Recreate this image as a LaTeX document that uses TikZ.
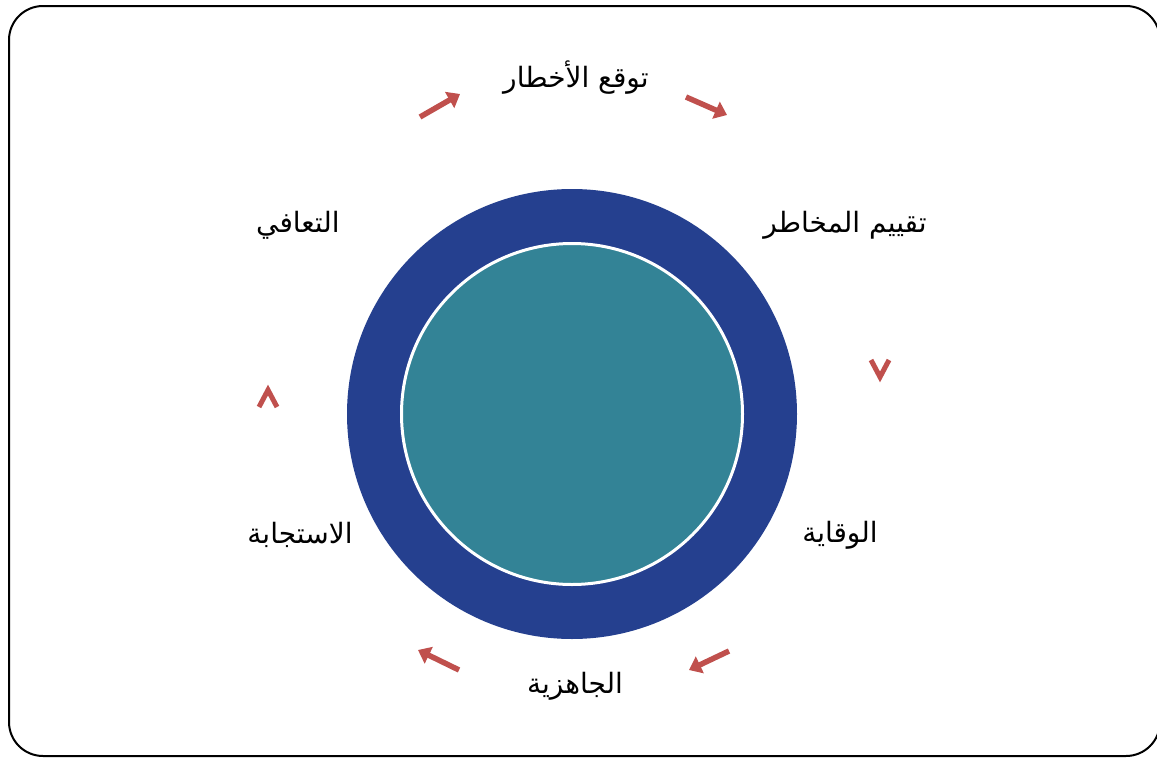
\documentclass[tikz,border=0pt]{standalone}
\usepackage{fontspec}
\newfontfamily\arabicfont[Script=Arabic]{DejaVu Sans}
\TeXXeTstate=1
\usetikzlibrary{arrows.meta}
\definecolor{ringblue}{HTML}{25408F}
\definecolor{innerteal}{HTML}{338396}
\definecolor{arrred}{HTML}{C0504D}
\tikzset{
  lbl/.style={font=\arabicfont\fontsize{28}{32}\selectfont, text=black, inner sep=0pt},
  cyclearrow/.style={draw=arrred, line width=5.5pt, -{Triangle[length=12pt,width=18pt]}},
  chevron/.style={draw=arrred, line width=5pt, line join=miter}
}
\begin{document}
\begin{tikzpicture}[x=1pt,y=-1pt]
\useasboundingbox (0,0) rectangle (1157,758);
\fill[white] (0,0) rectangle (1157,758);
\draw[line width=2pt, rounded corners=34pt] (9,6) rectangle (1160,756);
% circles
\node[circle, fill=ringblue, minimum size=450pt, inner sep=0pt] (outer) at (572,414) {};
\node[circle, fill=innerteal, draw=white, line width=3pt, minimum size=341pt, inner sep=0pt] (inner) at (572,414) {};
% labels
\node[lbl] (t1) at (576,78) {\beginR توقع الأخطار\endR};
\node[lbl] (t2) at (845,225) {\beginR تقييم المخاطر\endR};
\node[lbl] (t3) at (840,535) {\beginR الوقاية\endR};
\node[lbl] (t4) at (575,686) {\beginR الجاهزية\endR};
\node[lbl] (t5) at (300,535) {\beginR الاستجابة\endR};
\node[lbl] (t6) at (298,225) {\beginR التعافي\endR};
% arrows
\coordinate (a1s) at (420,117); \coordinate (a1e) at (460,94);
\coordinate (a2s) at (686,97); \coordinate (a2e) at (727,115);
\coordinate (a3s) at (729,651); \coordinate (a3e) at (689,670);
\coordinate (a4s) at (459,670); \coordinate (a4e) at (418,650);
\draw[cyclearrow] (a1s) -- (a1e);
\draw[cyclearrow] (a2s) -- (a2e);
\draw[cyclearrow] (a3s) -- (a3e);
\draw[cyclearrow] (a4s) -- (a4e);
% chevrons
\coordinate (c1a) at (871,360); \coordinate (c1b) at (880,377); \coordinate (c1c) at (889,360);
\coordinate (c2a) at (259,407); \coordinate (c2b) at (268,390); \coordinate (c2c) at (277,407);
\draw[chevron] (c1a) -- (c1b) -- (c1c);
\draw[chevron] (c2a) -- (c2b) -- (c2c);
\end{tikzpicture}
\end{document}
